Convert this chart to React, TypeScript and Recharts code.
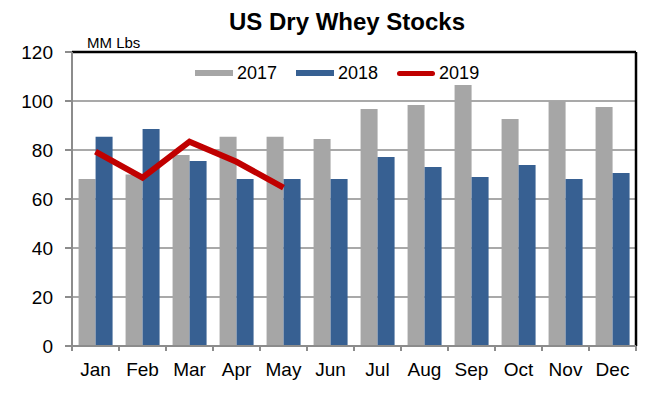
import React from 'react';
import { ComposedChart, Bar, Line, XAxis, YAxis, CartesianGrid, ReferenceLine } from 'recharts';

const months = ['Jan', 'Feb', 'Mar', 'Apr', 'May', 'Jun', 'Jul', 'Aug', 'Sep', 'Oct', 'Nov', 'Dec'];
const stocks2017 = [68.2, 70, 78, 85.4, 85.4, 84.5, 96.7, 98.4, 106.5, 92.7, 100, 97.6];
const stocks2018 = [85.4, 88.6, 75.5, 68.2, 68.2, 68.2, 77.1, 73.1, 69, 73.9, 68.2, 70.6];
const stocks2019 = [79.3, 68.7, 83.4, 75.2, 64.6];
const yTicks = [0, 20, 40, 60, 80, 100, 120];

const data = months.map((m, i) => ({
  month: m,
  y2017: stocks2017[i],
  y2018: stocks2018[i],
  y2019: i < stocks2019.length ? stocks2019[i] : null,
}));

const FONT = 'Arial, "Liberation Sans", Helvetica, sans-serif';
const GRAY = '#A6A6A6';
const BLUE = '#376092';
const RED = '#C00000';
const GRID = '#8C8C8C';

const legendItems = [
  { label: '2017', color: GRAY, kind: 'rect' },
  { label: '2018', color: BLUE, kind: 'rect' },
  { label: '2019', color: RED, kind: 'line' },
];

const TickMark = (props: any) => {
  const x = props.x1;
  const yb = Math.max(props.y1, props.y2);
  return <line x1={x} x2={x} y1={yb} y2={yb + 5} stroke={GRID} strokeWidth={2} />;
};

export default function App() {
  return (
    <div style={{ position: 'absolute', left: 0, top: 0, width: 658, height: 396, background: '#fff' }}>
      <ComposedChart
        width={658}
        height={396}
        data={data}
        margin={{ top: 52, right: 22, bottom: 0, left: 0 }}
        barCategoryGap="14%"
        barGap={0}
      >
        <CartesianGrid vertical={false} stroke={GRID} strokeWidth={1.5} />
        <XAxis
          dataKey="month"
          height={50}
          axisLine={{ stroke: GRID, strokeWidth: 2 }}
          tickLine={false}
          tickSize={5}
          tickMargin={12}
          interval={0}
          tick={{ fill: '#000', fontSize: 19, fontFamily: FONT }}
        />
        <YAxis
          domain={[0, 120]}
          ticks={yTicks}
          width={72}
          tickSize={7}
          tickMargin={12}
          axisLine={{ stroke: GRID, strokeWidth: 2 }}
          tickLine={{ stroke: GRID, strokeWidth: 2 }}
          tick={{ fill: '#000', fontSize: 19, fontFamily: FONT }}
        />
        <Bar dataKey="y2017" name="2017" fill={GRAY} isAnimationActive={false} />
        <Bar dataKey="y2018" name="2018" fill={BLUE} isAnimationActive={false} />
        <Line
          dataKey="y2019"
          name="2019"
          stroke={RED}
          strokeWidth={6}
          dot={false}
          strokeLinejoin="miter"
          connectNulls={false}
          isAnimationActive={false}
        />
        {months.map((m) => (
          <ReferenceLine key={'t' + m} x={m} position="start" shape={TickMark} />
        ))}
        <ReferenceLine x="Dec" position="end" shape={TickMark} />
        <ReferenceLine y={120} stroke="#000" strokeWidth={2.5} />
        <ReferenceLine x="Dec" position="end" stroke="#000" strokeWidth={2.5} />
      </ComposedChart>
      <div
        style={{
          position: 'absolute',
          left: 0,
          width: 694,
          top: 8,
          textAlign: 'center',
          fontFamily: FONT,
          fontWeight: 'bold',
          fontSize: 24,
          color: '#000',
          lineHeight: '28px',
        }}
      >
        US Dry Whey Stocks
      </div>
      <div
        style={{
          position: 'absolute',
          left: 87,
          top: 35,
          fontFamily: FONT,
          fontSize: 15,
          color: '#000',
          lineHeight: '16px',
        }}
      >
        MM Lbs
      </div>
      <div
        style={{
          position: 'absolute',
          left: 195,
          top: 62,
          display: 'flex',
          alignItems: 'center',
          fontFamily: FONT,
          fontSize: 18,
          lineHeight: '22px',
          color: '#000',
        }}
      >
        {legendItems.map((it) => (
          <div key={it.label} style={{ display: 'flex', alignItems: 'center', marginRight: 19 }}>
            <div
              style={{
                width: 38,
                height: it.kind === 'rect' ? 6 : 5,
                background: it.color,
                borderRadius: it.kind === 'line' ? 3 : 0,
                marginRight: 4,
              }}
            />
            <span>{it.label}</span>
          </div>
        ))}
      </div>
    </div>
  );
}
